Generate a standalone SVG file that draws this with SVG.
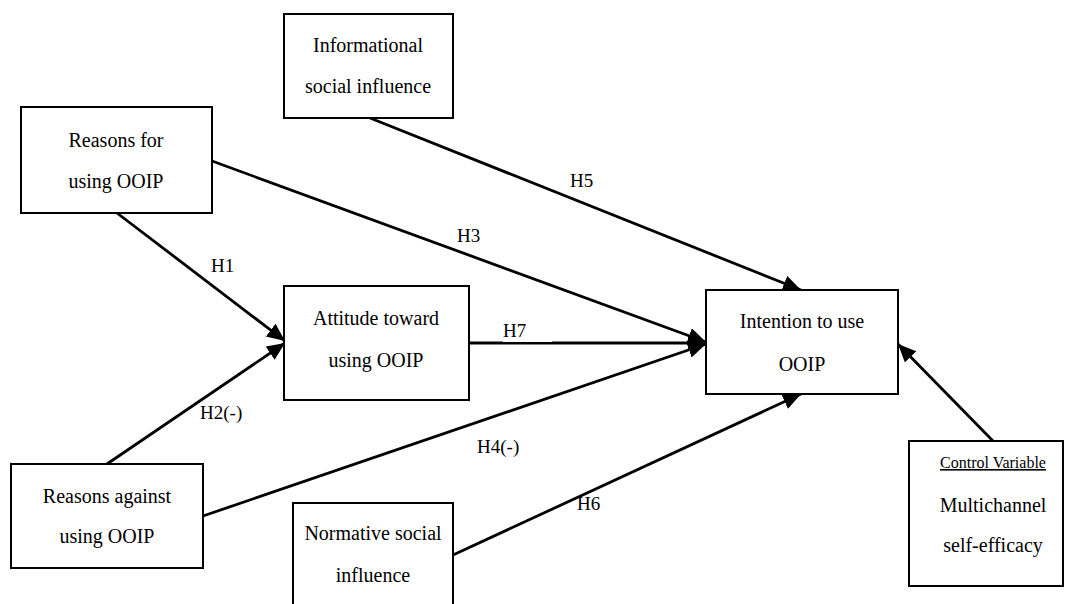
<svg xmlns="http://www.w3.org/2000/svg" width="1067" height="604" viewBox="0 0 1067 604">
<defs>
<style>
.box{fill:#fff;stroke:#000;stroke-width:2}
.t{font-family:"Liberation Serif","Times New Roman",serif;font-size:20px;fill:#000;text-anchor:middle}
.lbl{font-family:"Liberation Serif","Times New Roman",serif;font-size:19px;fill:#000}
.edge{stroke:#000;stroke-width:2.8;fill:none}
.arr{marker-end:url(#ah)}
</style>
<marker id="ah" markerUnits="userSpaceOnUse" markerWidth="20" markerHeight="18" refX="18" refY="8" orient="auto">
<path d="M0,0 L18,8 L0,16 Z" fill="#000"/>
</marker>
</defs>
<rect width="1067" height="604" fill="#fff"/>
<g id="connectors">
<line class="edge arr" x1="117" y1="213" x2="285" y2="341"/>
<line class="edge arr" x1="107" y1="464" x2="285" y2="343"/>
<line class="edge arr" x1="212" y1="161" x2="706" y2="342"/>
<line class="edge arr" x1="469" y1="343" x2="706" y2="343"/>
<line class="edge arr" x1="203" y1="516" x2="706" y2="344"/>
<line class="edge arr" x1="370" y1="118" x2="801" y2="290"/>
<line class="edge arr" x1="453" y1="555" x2="801" y2="394"/>
<line class="edge arr" x1="993" y1="441" x2="898" y2="344"/>
<rect x="503" y="322" width="49" height="20" fill="#fff"/>
<text class="lbl" x="211" y="272">H1</text>
<text class="lbl" x="457" y="242">H3</text>
<text class="lbl" x="570" y="187">H5</text>
<text class="lbl" x="503" y="337">H7</text>
<text class="lbl" x="200" y="419">H2(-)</text>
<text class="lbl" x="477" y="453">H4(-)</text>
<text class="lbl" x="577" y="510">H6</text>
</g>
<g id="reasons-for">
<rect class="box" x="21" y="107" width="191" height="106"/>
<text class="t" x="116" y="147">Reasons for</text>
<text class="t" x="116" y="188">using OOIP</text>
</g>
<g id="informational">
<rect class="box" x="284" y="14" width="169" height="104"/>
<text class="t" x="368" y="52">Informational</text>
<text class="t" x="368" y="93">social influence</text>
</g>
<g id="attitude">
<rect class="box" x="284" y="286" width="185" height="114"/>
<text class="t" x="376" y="325">Attitude toward</text>
<text class="t" x="376" y="367">using OOIP</text>
</g>
<g id="intention">
<rect class="box" x="706" y="290" width="192" height="104"/>
<text class="t" x="802" y="328">Intention to use</text>
<text class="t" x="802" y="371">OOIP</text>
</g>
<g id="reasons-against">
<rect class="box" x="11" y="464" width="192" height="104"/>
<text class="t" x="107" y="503">Reasons against</text>
<text class="t" x="107" y="543">using OOIP</text>
</g>
<g id="normative">
<rect class="box" x="293" y="503" width="160" height="104"/>
<text class="t" x="373" y="540">Normative social</text>
<text class="t" x="373" y="582">influence</text>
</g>
<g id="control">
<rect class="box" x="909" y="441" width="154" height="145"/>
<text class="t" x="993" y="468" style="font-size:16px;text-decoration:underline">Control Variable</text>
<text class="t" x="993" y="512">Multichannel</text>
<text class="t" x="993" y="552">self-efficacy</text>
</g>
</svg>
